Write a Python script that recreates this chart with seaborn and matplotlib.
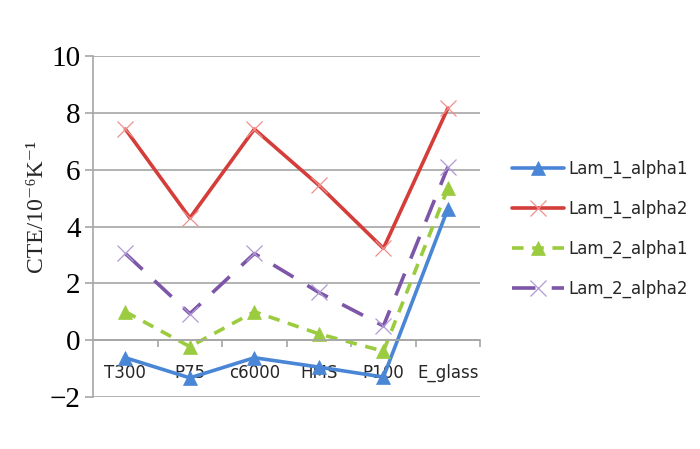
import matplotlib
matplotlib.use("Agg")
import matplotlib.pyplot as plt
import seaborn as sns
import numpy as np
import pandas as pd

categories = ["T300", "P75", "c6000", "HMS", "P100", "E_glass"]
lam_1_alpha1 = [-0.62, -1.33, -0.62, -0.95, -1.3, 4.63]
lam_1_alpha2 = [7.43, 4.3, 7.43, 5.45, 3.23, 8.17]
lam_2_alpha1 = [1.0, -0.23, 1.0, 0.22, -0.39, 5.35]
lam_2_alpha2 = [3.05, 0.93, 3.05, 1.68, 0.5, 6.1]
series_names = ["Lam_1_alpha1", "Lam_1_alpha2", "Lam_2_alpha1", "Lam_2_alpha2"]
yticks = [-2, 0, 2, 4, 6, 8, 10]

sns.set_theme(style="white")
plt.rcParams["font.family"] = ["DejaVu Sans"]

fig = plt.figure(figsize=(7.0, 4.49), dpi=100)
ax = fig.add_axes([0.133, 0.116, 0.553, 0.759])

x = np.arange(len(categories))
series = [lam_1_alpha1, lam_1_alpha2, lam_2_alpha1, lam_2_alpha2]
colors = ["#4a86d6", "#d43d3a", "#9bcb3e", "#7d56a8"]
marker_edge = ["#4a86d6", "#ef8f8c", "#9bcb3e", "#b09ad6"]
markers = ["^", "x", "^", "x"]
dashes = [None, None, (3.2, 2.4), (6.5, 4.5)]

for name, vals, c, me, m, d in zip(series_names, series, colors, marker_edge, markers, dashes):
    df = pd.DataFrame({"x": x, "y": vals})
    kw = dict(color=c, linewidth=2.6, marker=m, markersize=10 if m == "^" else 11,
              markeredgecolor=me, markerfacecolor=c, markeredgewidth=0.9 if m == "x" else 0.5,
              label=name)
    sns.lineplot(data=df, x="x", y="y", ax=ax, **kw)
    line = ax.lines[-1]
    if d is not None:
        line.set_dashes(d)

ax.set_xlim(-0.5, 5.5)
ax.set_ylim(-2, 10)
ax.set_yticks(yticks)
ax.set_yticklabels([str(t).replace("-", "\u2212") for t in yticks],
                   fontsize=21, family=["Liberation Serif", "DejaVu Serif"])
ax.set_ylabel("CTE/10\u207b\u2076K\u207b\u00b9", fontsize=17,
              family=["Liberation Serif", "DejaVu Serif"])
ax.yaxis.set_label_coords(-0.118, 0.56)
ax.set_xlabel("")

ax.grid(axis="y", color="#a6a6a6", linewidth=1.2)
ax.grid(axis="x", visible=False)
for s in ["top", "right"]:
    ax.spines[s].set_visible(False)
ax.spines["left"].set_color("#a6a6a6")
ax.spines["left"].set_linewidth(1.2)
ax.spines["bottom"].set_position(("data", 0))
ax.spines["bottom"].set_color("#a6a6a6")
ax.spines["bottom"].set_linewidth(1.2)
ax.tick_params(axis="y", which="major", length=6, width=1.2, color="#a6a6a6",
               direction="out", left=True, pad=3, labelcolor="black")

ax.set_xticks(x)
ax.set_xticklabels(categories, fontsize=12)
ax.set_xticks(np.arange(len(categories)) + 0.5, minor=True)
ax.tick_params(axis="x", which="major", length=0, pad=17, bottom=True)
ax.tick_params(axis="x", which="minor", length=5, width=1.2, color="#a6a6a6",
               direction="out", bottom=True)

handles, labels = ax.get_legend_handles_labels()
ax.legend(handles, labels, loc="center left", bbox_to_anchor=(0.71, 0.49),
          bbox_transform=fig.transFigure, frameon=False, fontsize=12,
          handlelength=3.1, labelspacing=1.3, handletextpad=0.3)

fig.savefig("out.png", dpi=100)
